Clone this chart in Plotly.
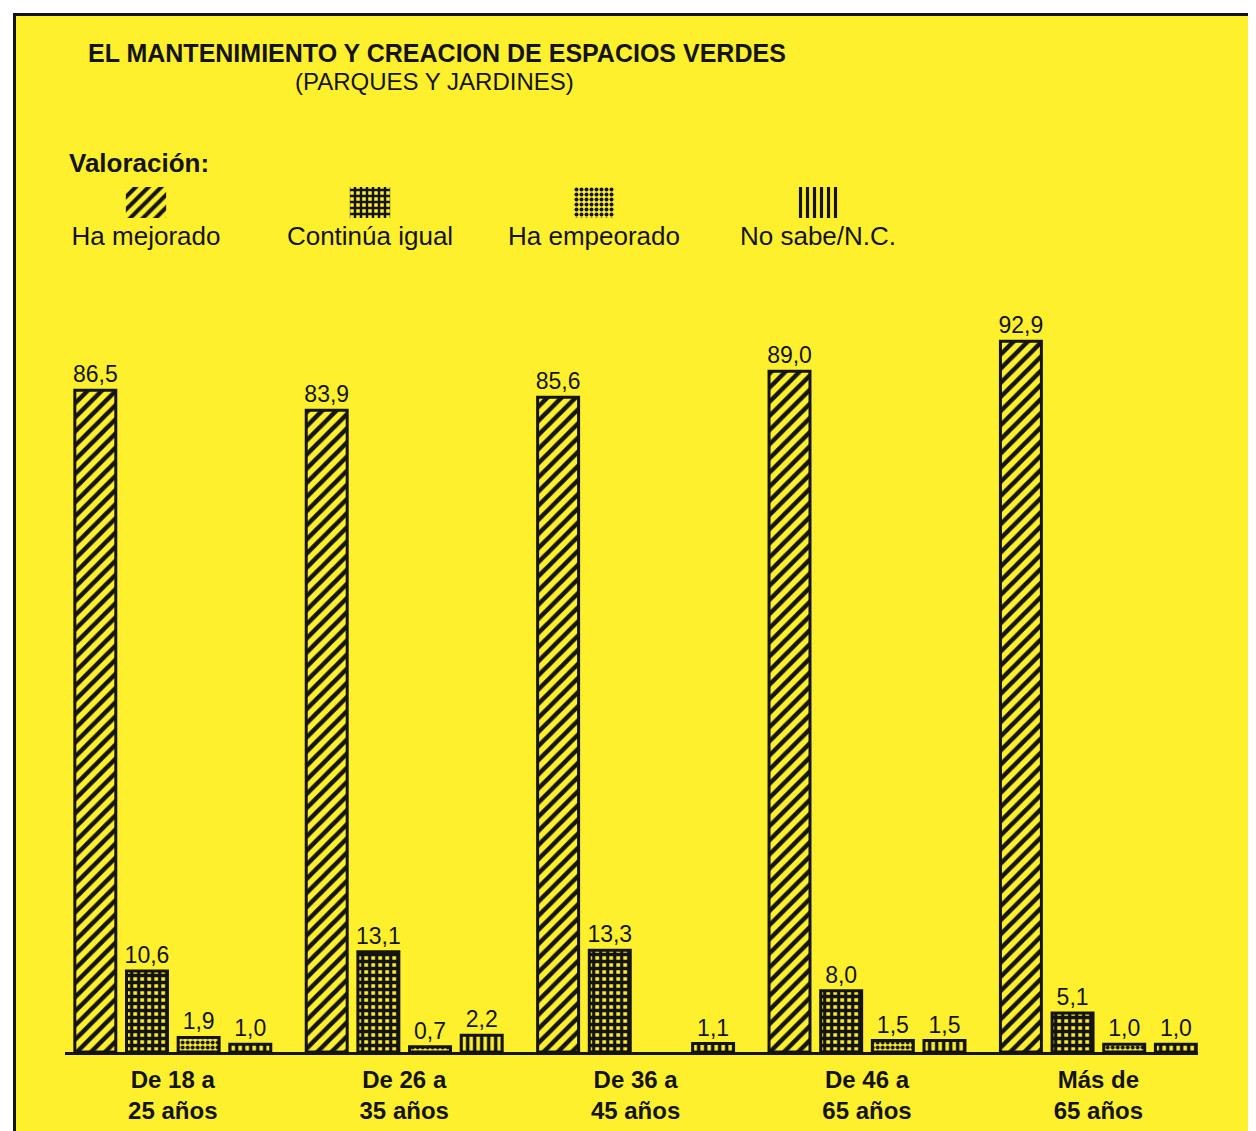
import plotly.graph_objects as go

# ---------------- data ----------------
categories = ["De 18 a<br>25 años", "De 26 a<br>35 años", "De 36 a<br>45 años",
              "De 46 a<br>65 años", "Más de<br>65 años"]
series_names = ["Ha mejorado", "Continúa igual", "Ha empeorado", "No sabe/N.C."]
ha_mejorado = [86.5, 83.9, 85.6, 89.0, 92.9]
continua_igual = [10.6, 13.1, 13.3, 8.0, 5.1]
ha_empeorado = [1.9, 0.7, None, 1.5, 1.0]
no_sabe = [1.0, 2.2, 1.1, 1.5, 1.0]

# ---------------- styles ----------------
OFF = 8                      # page body margin of the browser
W, H = 1256 - OFF, 1131 - OFF
YELLOW = "#FFF02E"
INK = "#141414"
FONT = "Liberation Sans, Arial, Helvetica, sans-serif"
patterns = ["/", "+", ".", "|"]
pat_size = [10, 7, 5, 7]
pat_solid = [0.45, 0.72, 0.5, 0.5]


def fmt(vals):
    return ["" if v is None else f"{v:.1f}".replace(".", ",") for v in vals]


def px_x(p):
    return (p - OFF) / W


def px_y(p):
    return 1 - (p - OFF) / H


fig = go.Figure()

for name, vals, shp, sz, so in zip(series_names,
                                   [ha_mejorado, continua_igual, ha_empeorado, no_sabe],
                                   patterns, pat_size, pat_solid):
    fig.add_trace(go.Bar(
        name=name, x=categories, y=vals, text=fmt(vals),
        textposition="outside", cliponaxis=False, constraintext="none",
        textfont=dict(family=FONT, size=23, color=INK),
        marker=dict(color=YELLOW, line=dict(color=INK, width=3),
                    pattern=dict(shape=shp, fgcolor=INK, bgcolor=YELLOW,
                                 size=sz, solidity=so, fillmode="replace")),
        showlegend=False, hoverinfo="x+y",
    ))

# legend swatches drawn as a small categorical bar subplot
fig.add_trace(go.Bar(
    x=series_names, y=[1, 1, 1, 1], width=0.18,
    xaxis="x2", yaxis="y2", showlegend=False, hoverinfo="skip",
    marker=dict(color=YELLOW, line=dict(width=0),
                pattern=dict(shape=patterns, fgcolor=INK, bgcolor=YELLOW,
                             size=[9, 6, 5, 7], solidity=[0.45, 0.65, 0.5, 0.45],
                             fillmode="replace")),
))

fig.update_layout(
    width=W, height=H,
    margin=dict(l=0, r=0, t=0, b=0),
    paper_bgcolor="white", plot_bgcolor="rgba(0,0,0,0)",
    barmode="group", bargap=0.107, bargroupgap=0.207,
    font=dict(family=FONT, color=INK),
    xaxis=dict(domain=[px_x(65.2), px_x(1197.9)], range=[-0.465, 4.43],
               showline=True, linecolor=INK, linewidth=3, ticks="",
               showgrid=False, zeroline=False, ticklabelstandoff=4,
               tickfont=dict(family=FONT, size=24, color=INK, weight="bold"),
               fixedrange=True),
    yaxis=dict(domain=[px_y(1052), px_y(300)], range=[0, 98.3],
               showgrid=False, zeroline=False, showticklabels=False,
               showline=False, fixedrange=True),
    xaxis2=dict(domain=[px_x(34), px_x(930)], anchor="y2", showline=False,
                ticks="", showgrid=False, zeroline=False,
                tickfont=dict(family=FONT, size=26, color=INK), fixedrange=True),
    yaxis2=dict(domain=[px_y(218), px_y(187)], range=[0, 1], anchor="x2",
                visible=False, fixedrange=True),
    title=dict(text="<b>EL MANTENIMIENTO Y CREACION DE ESPACIOS VERDES</b>",
               x=px_x(88), xanchor="left", xref="paper",
               y=px_y(53), yanchor="middle", yref="paper",
               font=dict(family=FONT, size=25, color=INK)),
    shapes=[dict(type="rect", xref="paper", yref="paper", layer="below",
                 x0=px_x(14.5), x1=1.03, y0=-0.03, y1=px_y(14.5),
                 fillcolor=YELLOW, line=dict(color=INK, width=3))],
    annotations=[
        dict(text="(PARQUES Y JARDINES)", xref="paper", yref="paper",
             x=px_x(434), y=px_y(82), xanchor="center", yanchor="middle",
             showarrow=False, font=dict(family=FONT, size=24, color=INK)),
        dict(text="<b>Valoración:</b>", xref="paper", yref="paper",
             x=px_x(67), y=px_y(163), xanchor="left", yanchor="middle",
             showarrow=False, font=dict(family=FONT, size=26, color=INK)),
    ],
)

fig.write_html("out.html")
